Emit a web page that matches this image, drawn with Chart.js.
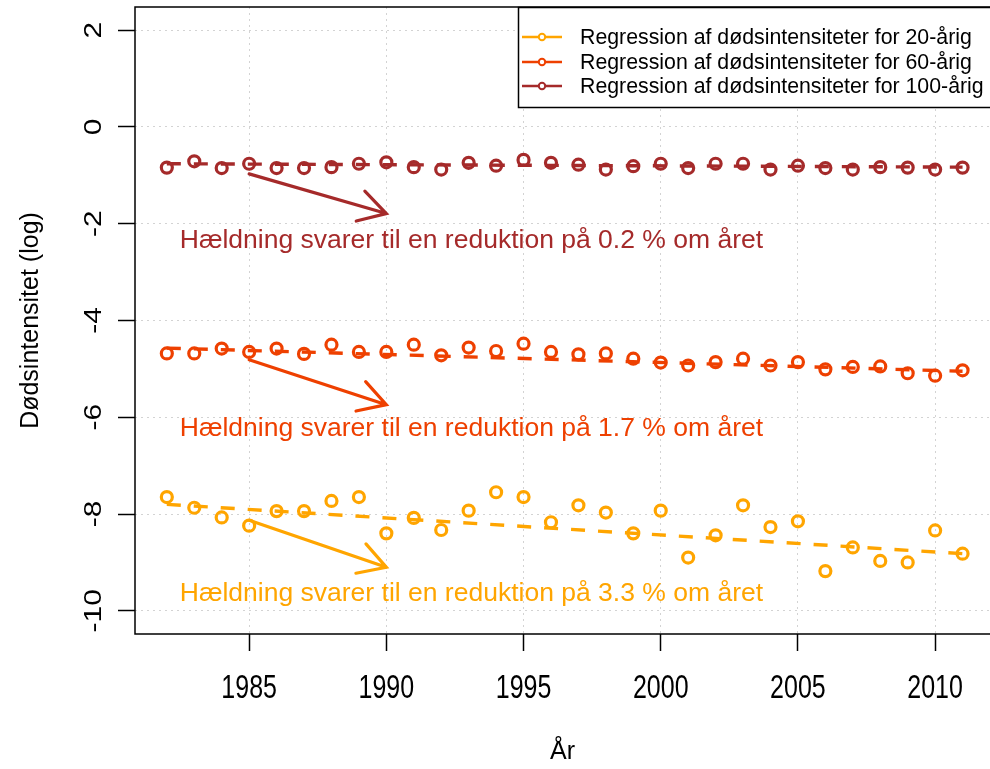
<!DOCTYPE html>
<html>
<head>
<meta charset="utf-8">
<script src="https://cdn.jsdelivr.net/npm/chart.js@4.4.1/dist/chart.umd.min.js"></script>
<style>
  html, body { margin: 0; padding: 0; background: #fff; }
  #wrap { width: 990px; height: 769px; }
</style>
</head>
<body>
<div id="wrap"><canvas id="chart" width="990" height="769"></canvas></div>
<script>
// data (log death intensity)
const years = [1982, 1983, 1984, 1985, 1986, 1987, 1988, 1989, 1990, 1991,
               1992, 1993, 1994, 1995, 1996, 1997, 1998, 1999, 2000, 2001,
               2002, 2003, 2004, 2005, 2006, 2007, 2008, 2009, 2010, 2011];
const age20 = [-7.65, -7.87, -8.07, -8.24, -7.94, -7.94, -7.73, -7.65, -8.40, -8.08,
               -8.33, -7.93, -7.55, -7.65, -8.17, -7.82, -7.97, -8.40, -7.93, -8.90,
               -8.44, -7.82, -8.27, -8.15, -9.18, -8.69, -8.97, -9.00, -8.34, -8.82];
const age60 = [-4.68, -4.68, -4.58, -4.65, -4.58, -4.69, -4.50, -4.65, -4.65, -4.50,
               -4.72, -4.56, -4.63, -4.48, -4.65, -4.70, -4.68, -4.79, -4.87, -4.93,
               -4.86, -4.79, -4.93, -4.86, -5.01, -4.96, -4.95, -5.09, -5.14, -5.03];
const age100 = [-0.84, -0.71, -0.85, -0.76, -0.85, -0.85, -0.83, -0.76, -0.73, -0.83,
                -0.88, -0.74, -0.80, -0.68, -0.74, -0.78, -0.88, -0.81, -0.76, -0.85,
                -0.76, -0.76, -0.88, -0.80, -0.85, -0.88, -0.83, -0.84, -0.88, -0.84];

// fitted regression lines (ends)
const regYears = [1982, 2011];
const reg20 = [-7.80, -8.82];
const reg60 = [-4.57, -5.05];
const reg100 = [-0.76, -0.83];

const xTicks = [1985, 1990, 1995, 2000, 2005, 2010];
const yTicks = [-10, -8, -6, -4, -2, 0, 2];

const seriesNames = [
  'Regression af dødsintensiteter for 20-årig',
  'Regression af dødsintensiteter for 60-årig',
  'Regression af dødsintensiteter for 100-årig'
];
const colors = ['#FFA500', '#EE4000', '#A52A2A'];

// annotations
const slopeTexts = [
  'Hældning svarer til en reduktion på 3.3 % om året',
  'Hældning svarer til en reduktion på 1.7 % om året',
  'Hældning svarer til en reduktion på 0.2 % om året'
];
const textYear = 1993.1;
const textY = [-9.64, -6.23, -2.35];
const arrowYears = [1985, 1990];
const arrowFrom = [-8.13, -4.81, -0.97];
const arrowTo = [-9.10, -5.74, -1.79];

const FONT = "'Liberation Sans', Arial, Helvetica, sans-serif";

const allSeries = [age20, age60, age100];
const allReg = [reg20, reg60, reg100];

const datasets = [];
allSeries.forEach(function(vals, i) {
  datasets.push({
    label: seriesNames[i],
    data: years.map((yr, j) => ({ x: yr, y: vals[j] })),
    showLine: false,
    pointStyle: 'circle',
    pointRadius: 5.5,
    pointHoverRadius: 5.5,
    pointBorderWidth: 3.2,
    borderColor: colors[i],
    backgroundColor: 'rgba(0,0,0,0)'
  });
  datasets.push({
    label: seriesNames[i] + ' (fit)',
    data: regYears.map((yr, j) => ({ x: yr, y: allReg[i][j] })),
    showLine: true,
    pointRadius: 0,
    borderColor: colors[i],
    borderWidth: 3.4,
    borderDash: [14, 13],
    fill: false
  });
});

// R-like frame, tick labels, arrows, texts and legend box
const rStyle = {
  id: 'rStyle',
  beforeDatasetsDraw(chart) {
    const { ctx, chartArea: a, scales } = chart;
    ctx.save();
    // plot box (its right side lies outside the picture)
    ctx.strokeStyle = '#000';
    ctx.lineWidth = 1.5;
    ctx.beginPath();
    ctx.moveTo(chart.width + 5, a.top);
    ctx.lineTo(a.left, a.top);
    ctx.lineTo(a.left, a.bottom);
    ctx.lineTo(chart.width + 5, a.bottom);
    ctx.stroke();

    ctx.fillStyle = '#000';
    ctx.textAlign = 'center';
    ctx.textBaseline = 'middle';
    // y tick labels, rotated like R (las = 0)
    ctx.font = '23px ' + FONT;
    scales.y.ticks.forEach(function(t) {
      const py = scales.y.getPixelForValue(t.value);
      ctx.save();
      ctx.translate(95, py);
      ctx.rotate(-Math.PI / 2);
      ctx.scale(1.3, 1);
      ctx.fillText(String(t.value), 0, 0);
      ctx.restore();
    });
    // x tick labels
    ctx.font = '25px ' + FONT;
    scales.x.ticks.forEach(function(t) {
      const px = scales.x.getPixelForValue(t.value);
      ctx.save();
      ctx.translate(px, 689);
      ctx.scale(1, 1.3);
      ctx.fillText(String(t.value), 0, 0);
      ctx.restore();
    });
    ctx.restore();
  },
  afterDatasetsDraw(chart) {
    const { ctx, scales } = chart;
    const x = scales.x, y = scales.y;
    ctx.save();
    for (let i = 0; i < 3; i++) {
      const x1 = x.getPixelForValue(arrowYears[0]), y1 = y.getPixelForValue(arrowFrom[i]);
      const x2 = x.getPixelForValue(arrowYears[1]), y2 = y.getPixelForValue(arrowTo[i]);
      const ang = Math.atan2(y2 - y1, x2 - x1);
      const len = 31, spread = Math.PI / 6;
      ctx.strokeStyle = colors[i];
      ctx.lineWidth = 3.2;
      ctx.lineCap = 'round';
      ctx.beginPath();
      ctx.moveTo(x1, y1);
      ctx.lineTo(x2, y2);
      ctx.moveTo(x2 - len * Math.cos(ang - spread), y2 - len * Math.sin(ang - spread));
      ctx.lineTo(x2, y2);
      ctx.lineTo(x2 - len * Math.cos(ang + spread), y2 - len * Math.sin(ang + spread));
      ctx.stroke();

      ctx.fillStyle = colors[i];
      ctx.font = '26.5px ' + FONT;
      ctx.textAlign = 'center';
      ctx.textBaseline = 'middle';
      ctx.fillText(slopeTexts[i], x.getPixelForValue(textYear), y.getPixelForValue(textY[i]));
    }

    // legend
    const lx = 518.5, ly = 7.5;
    ctx.fillStyle = '#fff';
    ctx.fillRect(lx, ly, 500, 100);
    ctx.strokeStyle = '#000';
    ctx.lineWidth = 1.5;
    ctx.strokeRect(lx, ly, 500, 100);
    const rows = [37, 62, 86];
    for (let i = 0; i < 3; i++) {
      ctx.strokeStyle = colors[i];
      ctx.lineWidth = 2.5;
      ctx.lineCap = 'butt';
      ctx.beginPath();
      ctx.moveTo(522, rows[i]);
      ctx.lineTo(562, rows[i]);
      ctx.stroke();
      ctx.beginPath();
      ctx.arc(542, rows[i], 3.2, 0, Math.PI * 2);
      ctx.fillStyle = '#fff';
      ctx.fill();
      ctx.lineWidth = 2;
      ctx.stroke();
      ctx.fillStyle = '#000';
      ctx.font = '21.3px ' + FONT;
      ctx.textAlign = 'left';
      ctx.textBaseline = 'middle';
      ctx.fillText(seriesNames[i], 580, rows[i] + 1);
    }
    ctx.restore();
  }
};

new Chart(document.getElementById('chart'), {
  type: 'scatter',
  data: { datasets: datasets },
  options: {
    responsive: false,
    animation: false,
    layout: { autoPadding: false, padding: { left: 0, top: 7, right: 0, bottom: 0 } },
    plugins: {
      legend: { display: false },
      tooltip: { enabled: false }
    },
    scales: {
      x: {
        type: 'linear',
        min: 1980.84,
        max: 2012.0,
        afterBuildTicks: s => { s.ticks = xTicks.map(v => ({ value: v })); },
        afterFit: s => { s.height = 135; s.paddingLeft = 0; s.paddingRight = 0; },
        ticks: { display: false },
        grid: {
          color: '#D3D3D3',
          lineWidth: 1,
          tickColor: '#000',
          tickLength: 17,
          tickWidth: 1.5,
          tickBorderDash: []
        },
        border: { display: false, dash: [2, 4] },
        title: {
          display: true,
          text: 'År',
          color: '#000',
          font: { family: FONT, size: 25 },
          padding: { top: 0, bottom: 1.6 }
        }
      },
      y: {
        type: 'linear',
        min: -10.48,
        max: 2.48,
        afterBuildTicks: s => { s.ticks = yTicks.map(v => ({ value: v })); },
        afterFit: s => { s.width = 135; s.paddingTop = 0; s.paddingBottom = 0; },
        ticks: { display: false },
        grid: {
          color: '#D3D3D3',
          lineWidth: 1,
          tickColor: '#000',
          tickLength: 17,
          tickWidth: 1.5,
          tickBorderDash: []
        },
        border: { display: false, dash: [2, 4] },
        title: {
          display: true,
          text: 'Dødsintensitet (log)',
          color: '#000',
          font: { family: FONT, size: 25 },
          padding: { top: 16.6, bottom: 0 }
        }
      }
    }
  },
  plugins: [rStyle]
});
</script>
</body>
</html>
